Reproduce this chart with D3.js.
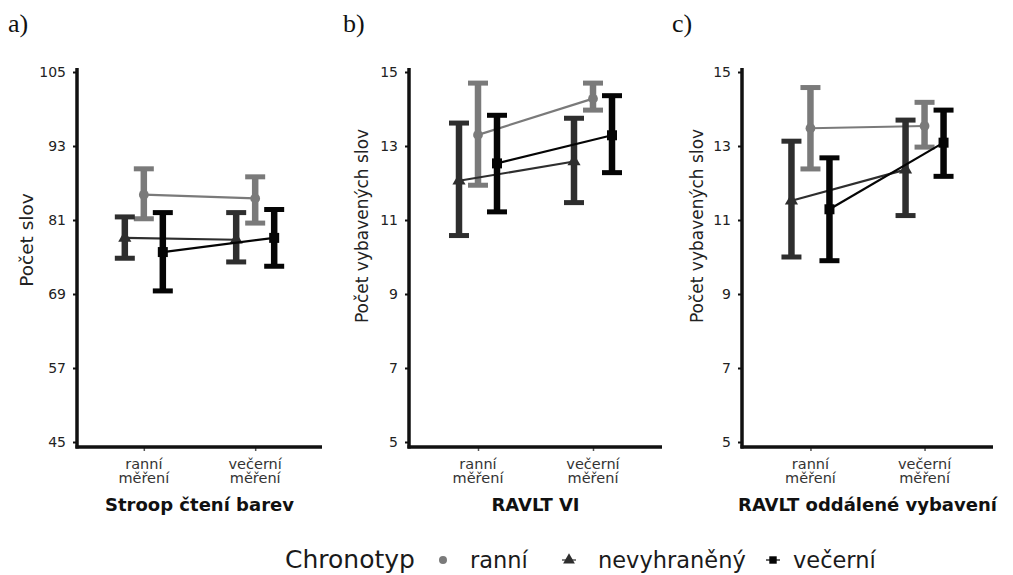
<!DOCTYPE html>
<html>
<head>
<meta charset="utf-8">
<script src="https://cdn.jsdelivr.net/npm/d3@7/dist/d3.min.js"></script>
<style>
  html, body { margin: 0; padding: 0; background: #fff; }
  svg { display: block; }
  text { font-family: "DejaVu Sans", sans-serif; }
</style>
</head>
<body>
<svg id="chart" width="1013" height="575"></svg>
<script>
// Measurement sessions (x categories)
const sessions = ["ranní měření", "večerní měření"];
// Chronotype groups, in the order they are placed left-to-right within a session
const groups = ["nevyhraněný", "ranní", "večerní"];
const groupColors = { "ranní": "#7a7a7a", "nevyhraněný": "#2e2e2e", "večerní": "#050505" };

// Panel a) Stroop – colour reading (mean, lower, upper per session)
const stroopRanniMean = [85.1, 84.5];
const stroopRanniLow = [81.2, 80.5];
const stroopRanniHigh = [89.3, 88.0];
const stroopNevyMean = [78.1, 77.8];
const stroopNevyLow = [74.8, 74.2];
const stroopNevyHigh = [81.5, 82.2];
const stroopVecMean = [75.8, 78.1];
const stroopVecLow = [69.5, 73.5];
const stroopVecHigh = [82.2, 82.7];
const stroopTicks = [45, 57, 69, 81, 93, 105];

// Panel b) RAVLT VI
const vi_RanniMean = [13.3, 14.28];
const vi_RanniLow = [11.94, 13.97];
const vi_RanniHigh = [14.7, 14.7];
const vi_NevyMean = [12.06, 12.58];
const vi_NevyLow = [10.58, 11.47];
const vi_NevyHigh = [13.62, 13.75];
const vi_VecMean = [12.53, 13.29];
const vi_VecLow = [11.22, 12.28];
const vi_VecHigh = [13.83, 14.36];

// Panel c) RAVLT delayed recall
const del_RanniMean = [13.48, 13.54];
const del_RanniLow = [12.38, 12.97];
const del_RanniHigh = [14.58, 14.18];
const del_NevyMean = [11.52, 12.36];
const del_NevyLow = [10.0, 11.12];
const del_NevyHigh = [13.13, 13.7];
const del_VecMean = [11.29, 13.09];
const del_VecLow = [9.9, 12.18];
const del_VecHigh = [12.68, 13.97];
const ravltTicks = [5, 7, 9, 11, 13, 15];

function series(name, mean, low, high) {
  return { name, points: sessions.map((s, i) => ({ session: s, mean: mean[i], low: low[i], high: high[i] })) };
}

const panels = [
  {
    tag: "a)", tagX: 8, left: 77, right: 322,
    yTitle: "Počet slov", yTitleX: 26, yTitleY: 240, yTitleSize: 18.5, xTitle: "Stroop čtení barev",
    domain: [45, 105], ticks: stroopTicks,
    data: [
      series("ranní", stroopRanniMean, stroopRanniLow, stroopRanniHigh),
      series("nevyhraněný", stroopNevyMean, stroopNevyLow, stroopNevyHigh),
      series("večerní", stroopVecMean, stroopVecLow, stroopVecHigh)
    ]
  },
  {
    tag: "b)", tagX: 343, left: 409, right: 662,
    yTitle: "Počet vybavených slov", yTitleX: 362, yTitleY: 226, yTitleSize: 17, xTitle: "RAVLT VI",
    domain: [5, 15], ticks: ravltTicks,
    data: [
      series("ranní", vi_RanniMean, vi_RanniLow, vi_RanniHigh),
      series("nevyhraněný", vi_NevyMean, vi_NevyLow, vi_NevyHigh),
      series("večerní", vi_VecMean, vi_VecLow, vi_VecHigh)
    ]
  },
  {
    tag: "c)", tagX: 672, left: 742, right: 993,
    yTitle: "Počet vybavených slov", yTitleX: 697, yTitleY: 226, yTitleSize: 17, xTitle: "RAVLT oddálené vybavení",
    domain: [5, 15], ticks: ravltTicks,
    data: [
      series("ranní", del_RanniMean, del_RanniLow, del_RanniHigh),
      series("nevyhraněný", del_NevyMean, del_NevyLow, del_NevyHigh),
      series("večerní", del_VecMean, del_VecLow, del_VecHigh)
    ]
  }
];

const svg = d3.select("#chart");
const plotTop = 72, plotBottom = 442, axisY = 447, axisTop = 68;

const dodge = d3.scalePoint().domain(groups).range([-19, 19]);

panels.forEach(p => {
  const g = svg.append("g");
  const y = d3.scaleLinear().domain(p.domain).range([plotBottom, plotTop]);
  const x = d3.scalePoint().domain(sessions).range([p.left, p.right]).padding(0.6);

  // panel tag
  svg.append("text").attr("x", p.tagX).attr("y", 32)
    .style("font-family", "'Liberation Serif', 'Times New Roman', serif")
    .attr("font-size", 26).attr("fill", "#111").text(p.tag);

  // y axis
  const yAxis = g.append("g").attr("transform", `translate(${p.left},0)`)
    .call(d3.axisLeft(y).tickValues(p.ticks).tickSize(4).tickPadding(7).tickSizeOuter(0));
  yAxis.select(".domain").remove();
  yAxis.selectAll(".tick line").attr("stroke", "#111").attr("stroke-width", 2);
  yAxis.selectAll(".tick text").attr("font-size", 14).attr("fill", "#222")
    .style("font-family", "'DejaVu Sans', sans-serif");

  // x axis ticks
  const xAxis = g.append("g").attr("transform", `translate(0,${axisY})`)
    .call(d3.axisBottom(x).tickSize(4).tickFormat(""));
  xAxis.select(".domain").remove();
  xAxis.selectAll(".tick line").attr("stroke", "#555").attr("stroke-width", 1.5);

  // axis lines
  g.append("line").attr("x1", p.left).attr("x2", p.left).attr("y1", axisTop).attr("y2", axisY + 1.5)
    .attr("stroke", "#111").attr("stroke-width", 3.5);
  g.append("line").attr("x1", p.left - 1.5).attr("x2", p.right).attr("y1", axisY).attr("y2", axisY)
    .attr("stroke", "#111").attr("stroke-width", 3.5);

  // category labels (two lines each)
  sessions.forEach(s => {
    s.split(" ").forEach((w, i) => {
      g.append("text").attr("x", x(s)).attr("y", 469 + i * 14)
        .attr("text-anchor", "middle").attr("font-size", 14.5).attr("fill", "#333").text(w);
    });
  });

  // titles
  g.append("text").attr("x", (p.left + p.right) / 2).attr("y", 511)
    .attr("text-anchor", "middle").attr("font-size", 18).attr("font-weight", "bold")
    .attr("fill", "#111").text(p.xTitle);
  g.append("text")
    .attr("transform", `translate(${p.yTitleX},${p.yTitleY}) rotate(-90)`)
    .attr("text-anchor", "middle").attr("dominant-baseline", "central")
    .attr("font-size", p.yTitleSize).attr("fill", "#222").text(p.yTitle);

  // data
  p.data.forEach(sr => {
    const col = groupColors[sr.name];
    const px = d => x(d.session) + dodge(sr.name);
    const sg = g.append("g");
    // error bars
    sg.selectAll("line.bar").data(sr.points).join("line").attr("class", "bar")
      .attr("x1", px).attr("x2", px).attr("y1", d => y(d.low)).attr("y2", d => y(d.high))
      .attr("stroke", col).attr("stroke-width", 6.5);
    ["low", "high"].forEach(k => {
      sg.selectAll("line.cap-" + k).data(sr.points).join("line").attr("class", "cap-" + k)
        .attr("x1", d => px(d) - 10).attr("x2", d => px(d) + 10)
        .attr("y1", d => y(d[k])).attr("y2", d => y(d[k]))
        .attr("stroke", col).attr("stroke-width", 5);
    });
    // connecting line
    sg.append("path").datum(sr.points)
      .attr("d", d3.line().x(px).y(d => y(d.mean)))
      .attr("fill", "none").attr("stroke", col).attr("stroke-width", 2.2);
    // mean markers
    const sym = sr.name === "ranní" ? d3.symbolCircle : sr.name === "nevyhraněný" ? d3.symbolTriangle : d3.symbolSquare;
    const size = sr.name === "ranní" ? 75 : sr.name === "nevyhraněný" ? 75 : 100;
    sg.selectAll("path.pt").data(sr.points).join("path").attr("class", "pt")
      .attr("transform", d => `translate(${px(d)},${y(d.mean)})`)
      .attr("d", d3.symbol().type(sym).size(size)).attr("fill", col);
  });
});

// legend
const lg = svg.append("g");
lg.append("text").attr("x", 285).attr("y", 568).attr("font-size", 25).attr("fill", "#1a1a1a").text("Chronotyp");
const legendItems = [
  { name: "ranní", sx: 443, tx: 470, sym: d3.symbolCircle, size: 50 },
  { name: "nevyhraněný", sx: 569, tx: 598, sym: d3.symbolTriangle, size: 60 },
  { name: "večerní", sx: 773, tx: 793, sym: d3.symbolSquare, size: 55 }
];
legendItems.forEach(it => {
  const col = groupColors[it.name];
  lg.append("line").attr("x1", it.sx - 7).attr("x2", it.sx + 7).attr("y1", 560).attr("y2", 560)
    .attr("stroke", col).attr("stroke-width", 1.5).attr("opacity", it.name === "ranní" ? 0 : 0.8);
  lg.append("path").attr("transform", `translate(${it.sx},560)`)
    .attr("d", d3.symbol().type(it.sym).size(it.size)).attr("fill", col);
  lg.append("text").attr("x", it.tx).attr("y", 568).attr("font-size", 22.5).attr("fill", "#1a1a1a").text(it.name);
});
</script>
</body>
</html>
